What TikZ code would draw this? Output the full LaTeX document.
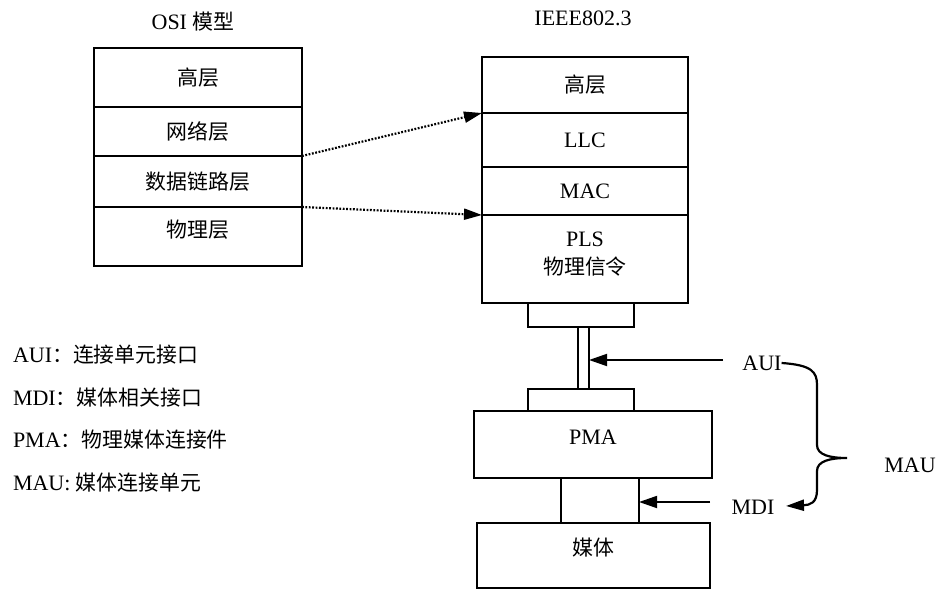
\documentclass[tikz,border=0pt]{standalone}
\usepackage{fontspec}
\setmainfont{Liberation Serif}
\newfontfamily\cjk[Scale=0.95]{Noto Sans CJK SC}
\usetikzlibrary{arrows.meta}
\begin{document}
\begin{tikzpicture}[x=1pt,y=-1pt,
  every node/.style={font=\fontsize{22}{28}\selectfont, inner sep=0pt, outer sep=0pt},
  box/.style 2 args={draw, line width=2.5pt, minimum width=#1, minimum height=#2},
  dotarrow/.style={line width=2.2pt, dash pattern=on 1.8pt off 1.6pt, -{Triangle[length=18pt,width=11pt]}},
  solidarrow/.style={line width=1.8pt, -{Triangle[length=18pt,width=12pt]}},
  bracepath/.style={line width=2.2pt, -{Triangle[length=18pt,width=11pt]}},
  legend/.style={anchor=west}]
\useasboundingbox (0,0) rectangle (940,594);
\fill[white] (0,0) rectangle (940,594);

% titles
\node (osititle) at (193,22) {OSI {\cjk 模型}};
\node (ieeetitle) at (583,18) {IEEE802.3};

% OSI stack
\node[box={208pt}{59pt}] (osi1) at (198,77.5) {\cjk 高层};
\node[box={208pt}{49pt}] (osi2) at (198,131.5) {\cjk 网络层};
\node[box={208pt}{51pt}] (osi3) at (198,181.5) {\cjk 数据链路层};
\node[box={208pt}{59pt}] (osi4) at (198,236.5) {};
\node (osi4t) at (198,230) {\cjk 物理层};

% IEEE stack
\node[box={206pt}{56pt}] (ieee1) at (585,85) {\cjk 高层};
\node[box={206pt}{54pt}] (ieee2) at (585,140) {LLC};
\node[box={206pt}{48pt}] (ieee3) at (585,191) {MAC};
\node[box={206pt}{88pt}] (ieee4) at (585,259) {};
\node[align=center] (ieee4t) at (585,254) {PLS\\{\cjk 物理信令}};

% dotted mappings
\draw[dotarrow] (osi2.south east) -- (ieee2.north west);
\draw[dotarrow] (osi3.south east) -- (ieee3.south west);

% AUI connector & cable
\node[box={106pt}{24pt}] (conntop) at (581,315) {};
\node[box={11pt}{62pt}] (cable) at (583.5,358) {};
\node[box={106pt}{22pt}] (connbot) at (581,400) {};

% PMA
\node[box={238pt}{67pt}] (pma) at (593,444.5) {};
\node (pmat) at (593,437) {PMA};

% MDI connector
\node[box={78pt}{45pt}] (mdic) at (600,500.5) {};

% medium
\node[box={233pt}{65pt}] (medium) at (593.5,555.5) {};
\node (mediumt) at (593.5,548) {\cjk 媒体};

% labels on the right
\node (aui) at (762,363) {AUI};
\node (mdi) at (753,507) {MDI};
\node (mau) at (910,465) {MAU};

\coordinate (auistart) at (723,360);
\coordinate (mdistart) at (710,502);
\coordinate (braceend) at (786,506);
\draw[solidarrow] (auistart) -- (auistart -| cable.east);
\draw[solidarrow] (mdistart) -- (mdistart -| mdic.east);

% brace
\draw[bracepath] (aui.east) .. controls (812,365) and (817,372) .. (817,385)
  -- (817,445) .. controls (817,455) and (830,458) .. (847,458)
  .. controls (830,458) and (817,461) .. (817,471)
  -- (817,490) .. controls (817,503) and (810,505) .. (braceend);

% legend
\node[legend] (leg1) at (13,355) {AUI{\cjk ：连接单元接口}};
\node[legend] (leg2) at (13,398) {MDI{\cjk ：媒体相关接口}};
\node[legend] (leg3) at (13,440) {PMA{\cjk ：物理媒体连接件}};
\node[legend] (leg4) at (13,483) {MAU: {\cjk 媒体连接单元}};
\end{tikzpicture}
\end{document}
